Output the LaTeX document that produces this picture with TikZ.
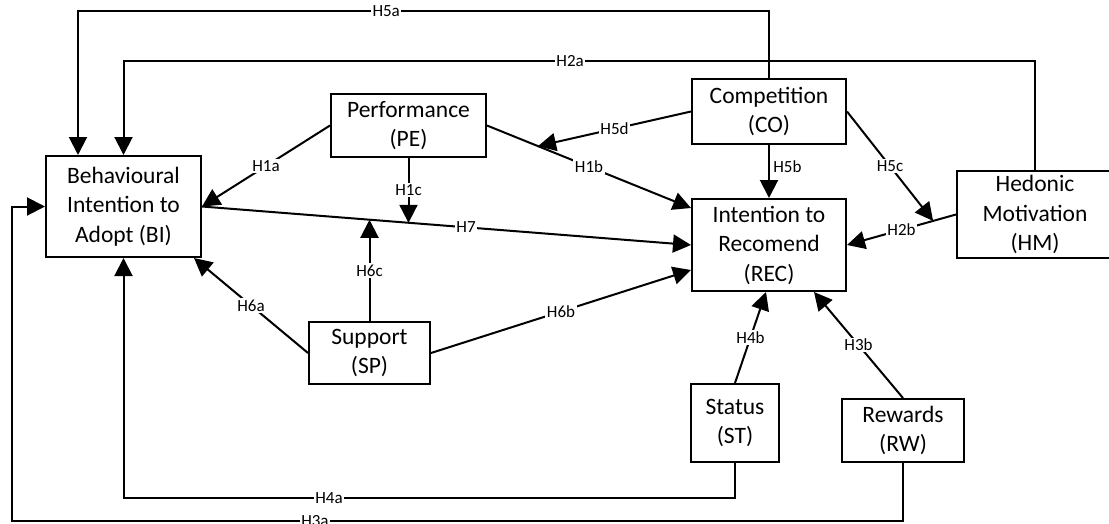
\documentclass[tikz,border=0pt]{standalone}
\usepackage{fontspec}
\setmainfont{Carlito}
\usepackage{tikz}
\usetikzlibrary{arrows.meta}

\tikzset{
  box/.style={draw, line width=2pt, inner sep=0pt, align=center,
    font=\fontsize{23.5}{29.5}\selectfont},
  hyp/.style={fill=white, inner sep=1.5pt, font=\fontsize{17}{17}\selectfont},
  arr/.style={line width=2pt, -{Triangle[length=18pt,width=18pt]}}
}

\begin{document}
\begin{tikzpicture}[x=1pt,y=-1pt]
        \useasboundingbox (0,0) rectangle (1109,523);
        \node[box, minimum width=155pt, minimum height=101pt] (BI) at (123.5,206.5) {Behavioural\\Intention to\\Adopt (BI)};
        \node[box, minimum width=155pt, minimum height=63pt] (PE) at (408.5,125.5) {Performance\\(PE)};
        \node[box, minimum width=154pt, minimum height=65pt] (CO) at (769,111.5) {Competition\\(CO)};
        \node[box, minimum width=154pt, minimum height=92pt] (REC) at (769,245) {Intention to\\Recomend\\(REC)};
        \node[box, minimum width=156pt, minimum height=87pt] (HM) at (1035,214.5) {Hedonic\\Motivation\\(HM)};
        \node[box, minimum width=121pt, minimum height=62pt] (SP) at (369.5,353) {Support\\(SP)};
        \node[box, minimum width=88pt, minimum height=78pt] (ST) at (735,423) {Status\\(ST)};
        \node[box, minimum width=122pt, minimum height=63pt] (RW) at (903,430.5) {Rewards\\(RW)};

        \draw[arr] (BI.east) -- node[hyp, pos=0.54] {H7}
            coordinate[pos=0.424] (h1c) coordinate[pos=0.344] (h6c) (REC.west);
        \draw[arr] (PE.east) -- node[hyp] {H1b} coordinate[pos=0.25] (h5d) ([yshift=37pt]REC.west);
        \draw[arr] (HM.west) -- node[hyp] {H2b} coordinate[pos=0.21] (h5c) (REC.east);

        \draw[arr] (PE.west) -- node[hyp] {H1a} (BI.east);
        \draw[arr] (PE.south) -- node[hyp] {H1c} (PE.south |- h1c);
        \draw[arr] (SP.north) -- node[hyp] {H6c} (SP.north |- h6c);
        \draw[arr] (SP.west) -- node[hyp] {H6a} ([xshift=-8pt]BI.south east);
        \draw[arr] (SP.east) -- node[hyp] {H6b} ([yshift=-25pt]REC.west);
        \draw[arr] (CO.west) -- node[hyp] {H5d} (h5d);
        \draw[arr] (CO.south) -- node[right, pos=0.4, font=\fontsize{17}{17}\selectfont] {H5b} (REC.north);
        \draw[arr] (CO.east) -- node[hyp] {H5c} (h5c);
        \draw[arr] (ST.north) -- node[hyp] {H4b} ([xshift=-3pt]REC.south);
        \draw[arr] (RW.north) -- node[hyp] {H3b} ([xshift=45pt]REC.south);

        \draw[arr] (CO.north) -- ++(0,-67) -| node[hyp, pos=0.277] {H5a} ([xshift=-45.5pt]BI.north);
        \draw[arr] (HM.north) -- ++(0,-109) -| node[hyp, pos=0.255] {H2a} (BI.north);
        \draw[arr] (ST.south) -- ++(0,35) -| node[hyp, pos=0.332] {H4a} (BI.south);
        \draw[arr] (RW.south) |- node[hyp, pos=0.83] {H3a} (12,521) |- (BI.west);
    \end{tikzpicture}
\end{document}
